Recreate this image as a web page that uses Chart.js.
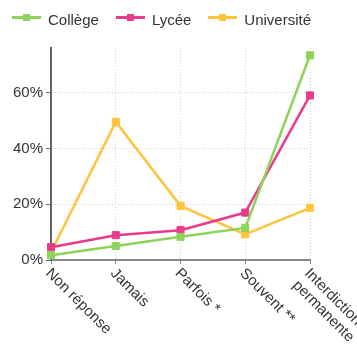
<!DOCTYPE html>
<html>
<head>
<meta charset="utf-8">
<script src="https://cdn.jsdelivr.net/npm/chart.js@4.4.0/dist/chart.umd.min.js"></script>
<style>
  html, body { margin: 0; padding: 0; background: #fff; }
  #wrap { position: relative; width: 357px; height: 345px; }
  #legend { position: absolute; top: 11px; left: 12px; display: flex; gap: 17px;
            font: 15px "Liberation Sans", Arial, sans-serif; color: #333; line-height: 17px; }
  .item { display: flex; align-items: flex-start; }
  .sw { position: relative; width: 29px; height: 3px; margin: 5px 7px 0 0; }
  .sw i { position: absolute; left: 11px; top: -2px; width: 7px; height: 7px; }
</style>
</head>
<body>
<div id="wrap">
  <canvas id="chart1" width="357" height="345"></canvas>
  <div id="legend"></div>
</div>
<script>
// data (values in %)
const categories = ['Non réponse', 'Jamais', 'Parfois *', 'Souvent **', ['Interdiction', 'permanente']];
const college    = [1.7, 5.0, 8.3, 11.5, 73.4];
const lycee      = [4.6, 8.9, 10.7, 17.0, 59.0];
const universite = [2.8, 49.5, 19.4, 9.2, 18.7];
const yTicks = [0, 20, 40, 60];
const yMax = 76;

const seriesNames  = ['Collège', 'Lycée', 'Université'];
const seriesColors = ['#8fd35a', '#ea3a8c', '#ffc43e'];

const FONT = '"Liberation Sans", Arial, sans-serif';

function $(sel){ return document.querySelector(sel); }

// legend as html (line + square swatch)
$('#legend').innerHTML = seriesNames.map((n, i) =>
  `<div class="item"><span class="sw" style="background:${seriesColors[i]}"><i style="background:${seriesColors[i]}"></i></span>${n}</div>`
).join('');

// rotated x labels, reading downwards from the tick
const xLabels = {
  id: 'xLabels',
  afterDraw(chart){
    const sc = chart.scales.x, ctx = chart.ctx;
    ctx.save();
    ctx.font = `15px ${FONT}`;
    ctx.fillStyle = '#333';
    ctx.textAlign = 'left';
    ctx.textBaseline = 'middle';
    categories.forEach((c, i) => {
      const x = sc.getPixelForTick(i);
      ctx.save();
      ctx.translate(x - 3, sc.top + 11);
      ctx.rotate(Math.PI / 4);
      [].concat(c).forEach((t, j) => ctx.fillText(t, 0, j * 17));
      ctx.restore();
    });
    ctx.restore();
  }
};

const datasets = [college, lycee, universite].map((d, i) => ({
  label: seriesNames[i],
  data: d,
  borderColor: seriesColors[i],
  backgroundColor: seriesColors[i],
  borderWidth: 2.5,
  pointStyle: 'rect',
  pointRadius: 5,
  pointBorderWidth: 1,
  tension: 0
}));

new Chart($('#chart1').getContext('2d'), {
  type: 'line',
  data: { labels: categories, datasets },
  options: {
    responsive: false,
    animation: false,
    layout: { padding: { top: 48, left: 10, right: 47, bottom: 81 } },
    plugins: { legend: { display: false }, tooltip: { enabled: false } },
    scales: {
      x: {
        offset: false,
        grid: { color: '#d0d0d0', tickLength: 4, tickColor: '#888', tickBorderDash: [] },
        border: { color: '#888', width: 2, dash: [1, 2] },
        ticks: { display: false }
      },
      y: {
        min: 0,
        max: yMax,
        afterBuildTicks: s => { s.ticks = yTicks.map(v => ({ value: v })); },
        grid: { color: '#d0d0d0', tickLength: 5, tickColor: '#666', tickBorderDash: [] },
        border: { color: '#666', width: 2, dash: [1, 2] },
        ticks: { padding: 3, color: '#333', font: { size: 15, family: FONT }, callback: v => v + '%' }
      }
    }
  },
  plugins: [xLabels]
});
</script>
</body>
</html>
